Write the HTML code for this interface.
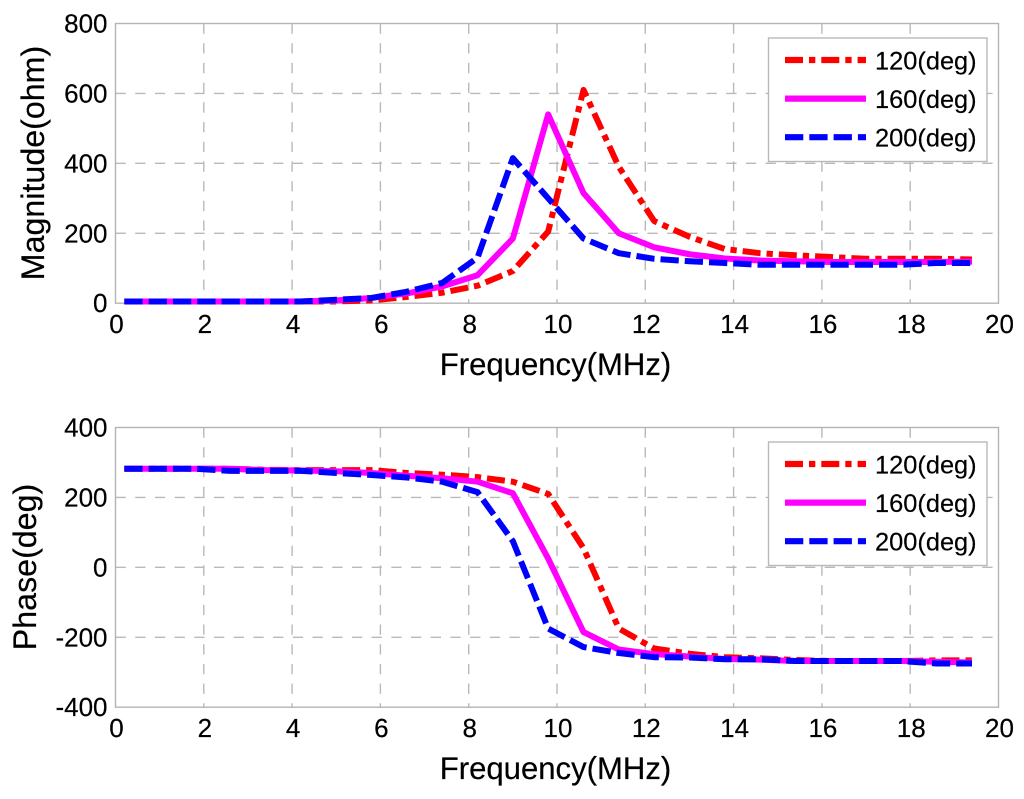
<!DOCTYPE html>
<html lang="en">
<head>
<meta charset="utf-8">
<title>Magnitude and phase vs frequency</title>
<style>
html,body{margin:0;padding:0;background:#fff;}
svg{display:block;font-family:"Liberation Sans",Arial,sans-serif;fill:#000;}
text{stroke:#000;stroke-width:0.2px;}
</style>
</head>
<body>
<svg id="chart" xmlns="http://www.w3.org/2000/svg" width="1024" height="799" viewBox="0 0 1024 799"></svg>
<script>
const frequencies = [0.2,1.0,1.8,2.6,3.4,4.2,5.0,5.8,6.6,7.4,8.2,9.0,9.8,10.6,11.4,12.2,13.0,13.8,14.6,15.4,16.2,17.0,17.8,18.6,19.4];
const mag120 = [5,5,5,5,5,5,5,8,18,30,50,92,205,610,390,235,190,155,143,137,132,127,127,127,125];
const mag160 = [5,5,5,5,5,5,8,15,28,48,80,185,540,315,200,160,140,128,122,120,118,118,118,118,119];
const mag200 = [5,5,5,5,5,5,10,15,33,58,130,415,300,185,143,127,120,115,110,110,110,110,110,115,115];
const phase120 = [282,282,282,282,279,278,278,278,270,265,258,245,210,55,-175,-232,-247,-257,-260,-265,-268,-268,-268,-266,-266];
const phase160 = [282,282,282,282,278,277,275,270,262,255,245,212,25,-185,-235,-248,-255,-262,-264,-268,-268,-268,-268,-270,-272];
const phase200 = [282,282,282,276,276,276,270,264,257,245,215,75,-175,-228,-245,-257,-258,-263,-263,-268,-268,-268,-268,-275,-275];
const xTicks = [0,2,4,6,8,10,12,14,16,18,20];
const magTicks = [0,200,400,600,800];
const phaseTicks = [-400,-200,0,200,400];
const legendLabels = ["120(deg)","160(deg)","200(deg)"];

const svg = document.getElementById('chart');
const NS = 'http://www.w3.org/2000/svg';
const seriesColors = ['#ff0000','#ff00ff','#0000ff'];
const seriesDashes = ['18 6 6.3 6','none','18.3 6'];
const xLeft = 115.5, xRight = 998.5, plotH = 279.7;

function make(tag, props, parent) {
  const el = document.createElementNS(NS, tag);
  for (const k in props) el.setAttribute(k, props[k]);
  parent.appendChild(el);
  return el;
}
function xScale(v) { return xLeft + (v - xTicks[0]) / (xTicks[xTicks.length-1] - xTicks[0]) * (xRight - xLeft); }

function drawPanel(panelName, top, yTicks, yTitle, yTitleX, yTitleY, seriesList) {
  const yMin = yTicks[0], yMax = yTicks[yTicks.length-1];
  const yScale = v => top + (yMax - v) / (yMax - yMin) * plotH;
  const bottom = top + plotH;
  const g = make('g', {}, svg);
  
  

  xTicks.slice(1,-1).forEach(t => {
    const line = make('line', {x1:xScale(t),x2:xScale(t),y1:top,y2:bottom,stroke:'#b9b9b9','stroke-width':1.4,'stroke-dasharray':'10.3 9.4'}, g);
    
    
  });
  yTicks.slice(1,-1).forEach(t => {
    const line = make('line', {x1:xLeft,x2:xRight,y1:yScale(t),y2:yScale(t),stroke:'#b9b9b9','stroke-width':1.4,'stroke-dasharray':'10.3 9.4'}, g);
    
    
  });
  const frame = make('rect', {x:xLeft,y:top,width:xRight-xLeft,height:plotH,fill:'none',stroke:'#b4b4b4','stroke-width':1.4}, g);
  
  

  xTicks.forEach(t => {
    const el = make('text', {x:xScale(t)+1,y:bottom+30,'font-size':26,'text-anchor':'middle'}, g);
    el.textContent = t;
    
    
  });
  yTicks.forEach(t => {
    const el = make('text', {x:107.5,y:yScale(t)+9,'font-size':26,'text-anchor':'end'}, g);
    el.textContent = t;
    
    
  });
  const xTitle = make('text', {x:555.5,y:bottom+72,'font-size':31.1,'text-anchor':'middle'}, g);
  xTitle.textContent = 'Frequency(MHz)';
  
  
  const yT = make('text', {transform:'translate('+yTitleX+' '+yTitleY+') rotate(-90)','font-size':32.2,'text-anchor':'middle'}, g);
  yT.textContent = yTitle;
  
  

  seriesList.forEach((vals, i) => {
    const pts = vals.map((v, j) => xScale(frequencies[j]).toFixed(2) + ',' + yScale(v).toFixed(2)).join(' ');
    const line = make('polyline', {points:pts,fill:'none',stroke:seriesColors[i],'stroke-width':6,'stroke-linejoin':'round','stroke-dasharray':seriesDashes[i]}, g);
    
    
  });

  const legend = make('g', {}, g);
  
  
  const legendBox = make('rect', {x:768.5,y:top+14.5,width:218.5,height:123.5,fill:'#fff',stroke:'#b9b9b9','stroke-width':1.4}, legend);
  
  
  legendLabels.forEach((label, i) => {
    const ly = top + 36.5 + i * 38.6;
    const sample = make('line', {x1:785,x2:866,y1:ly,y2:ly,stroke:seriesColors[i],'stroke-width':6.2,'stroke-dasharray':seriesDashes[i]}, legend);
    
    
    const txt = make('text', {x:875,y:ly+9.5,'font-size':25.4}, legend);
    txt.textContent = label;
    
    
  });
}

drawPanel('magnitude-panel', 23.5, magTicks, 'Magnitude(ohm)', 44, 163, [mag120, mag160, mag200]);
drawPanel('phase-panel', 427.5, phaseTicks, 'Phase(deg)', 36, 567, [phase120, phase160, phase200]);
</script>
</body>
</html>
